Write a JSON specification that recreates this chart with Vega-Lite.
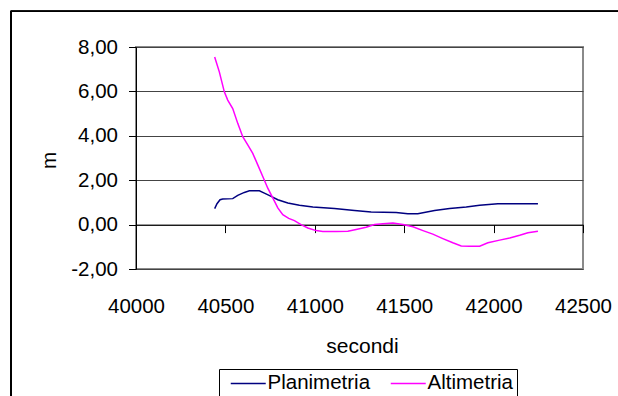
{
  "$schema": "https://vega.github.io/schema/vega-lite/v6.json",
  "autosize": "none",
  "width": 447,
  "height": 222,
  "padding": {"left": 136, "top": 47, "right": 35, "bottom": 127},
  "background": "white",
  "config": {
    "font": "Liberation Sans",
    "locale": {"number": {"decimal": ",", "thousands": ".", "grouping": [3], "currency": ["", ""], "minus": "-"}},
    "view": {"stroke": "#8a8a8a", "strokeWidth": 2}
  },
  "data": {
    "values": [
      {"t": 40440, "serie": "Planimetria", "v": 0.72},
      {"t": 40453, "serie": "Planimetria", "v": 0.94},
      {"t": 40470, "serie": "Planimetria", "v": 1.12},
      {"t": 40485, "serie": "Planimetria", "v": 1.15},
      {"t": 40541, "serie": "Planimetria", "v": 1.17},
      {"t": 40569, "serie": "Planimetria", "v": 1.32},
      {"t": 40606, "serie": "Planimetria", "v": 1.45},
      {"t": 40634, "serie": "Planimetria", "v": 1.52},
      {"t": 40690, "serie": "Planimetria", "v": 1.52},
      {"t": 40718, "serie": "Planimetria", "v": 1.42},
      {"t": 40756, "serie": "Planimetria", "v": 1.27},
      {"t": 40793, "serie": "Planimetria", "v": 1.12},
      {"t": 40849, "serie": "Planimetria", "v": 0.97},
      {"t": 40914, "serie": "Planimetria", "v": 0.87},
      {"t": 40989, "serie": "Planimetria", "v": 0.79},
      {"t": 41110, "serie": "Planimetria", "v": 0.72},
      {"t": 41222, "serie": "Planimetria", "v": 0.64},
      {"t": 41315, "serie": "Planimetria", "v": 0.57},
      {"t": 41455, "serie": "Planimetria", "v": 0.55},
      {"t": 41520, "serie": "Planimetria", "v": 0.49},
      {"t": 41576, "serie": "Planimetria", "v": 0.49},
      {"t": 41670, "serie": "Planimetria", "v": 0.63},
      {"t": 41754, "serie": "Planimetria", "v": 0.72},
      {"t": 41847, "serie": "Planimetria", "v": 0.79},
      {"t": 41922, "serie": "Planimetria", "v": 0.87},
      {"t": 42024, "serie": "Planimetria", "v": 0.94},
      {"t": 42090, "serie": "Planimetria", "v": 0.94},
      {"t": 42248, "serie": "Planimetria", "v": 0.94},
      {"t": 40440, "serie": "Altimetria", "v": 7.55},
      {"t": 40466, "serie": "Altimetria", "v": 6.88},
      {"t": 40494, "serie": "Altimetria", "v": 5.98},
      {"t": 40513, "serie": "Altimetria", "v": 5.61},
      {"t": 40541, "serie": "Altimetria", "v": 5.23},
      {"t": 40569, "serie": "Altimetria", "v": 4.56},
      {"t": 40597, "serie": "Altimetria", "v": 3.96},
      {"t": 40625, "serie": "Altimetria", "v": 3.59},
      {"t": 40653, "serie": "Altimetria", "v": 3.21},
      {"t": 40681, "serie": "Altimetria", "v": 2.69},
      {"t": 40709, "serie": "Altimetria", "v": 2.17},
      {"t": 40737, "serie": "Altimetria", "v": 1.64},
      {"t": 40765, "serie": "Altimetria", "v": 1.2},
      {"t": 40793, "serie": "Altimetria", "v": 0.75},
      {"t": 40821, "serie": "Altimetria", "v": 0.45},
      {"t": 40854, "serie": "Altimetria", "v": 0.28},
      {"t": 40886, "serie": "Altimetria", "v": 0.18},
      {"t": 40923, "serie": "Altimetria", "v": 0.0},
      {"t": 40961, "serie": "Altimetria", "v": -0.15},
      {"t": 41007, "serie": "Altimetria", "v": -0.27},
      {"t": 41045, "serie": "Altimetria", "v": -0.31},
      {"t": 41119, "serie": "Altimetria", "v": -0.31},
      {"t": 41185, "serie": "Altimetria", "v": -0.3},
      {"t": 41231, "serie": "Altimetria", "v": -0.22},
      {"t": 41287, "serie": "Altimetria", "v": -0.12},
      {"t": 41334, "serie": "Altimetria", "v": 0.0},
      {"t": 41381, "serie": "Altimetria", "v": 0.04},
      {"t": 41437, "serie": "Altimetria", "v": 0.07},
      {"t": 41493, "serie": "Altimetria", "v": 0.0},
      {"t": 41549, "serie": "Altimetria", "v": -0.1},
      {"t": 41605, "serie": "Altimetria", "v": -0.27},
      {"t": 41660, "serie": "Altimetria", "v": -0.43},
      {"t": 41716, "serie": "Altimetria", "v": -0.63},
      {"t": 41772, "serie": "Altimetria", "v": -0.82},
      {"t": 41819, "serie": "Altimetria", "v": -0.96},
      {"t": 41866, "serie": "Altimetria", "v": -0.97},
      {"t": 41922, "serie": "Altimetria", "v": -0.97},
      {"t": 41968, "serie": "Altimetria", "v": -0.82},
      {"t": 42034, "serie": "Altimetria", "v": -0.7},
      {"t": 42090, "serie": "Altimetria", "v": -0.6},
      {"t": 42146, "serie": "Altimetria", "v": -0.48},
      {"t": 42192, "serie": "Altimetria", "v": -0.37},
      {"t": 42248, "serie": "Altimetria", "v": -0.3}
    ]
  },
  "layer": [
    {
      "mark": {"type": "line", "strokeWidth": 1.5, "clip": false},
      "encoding": {
        "x": {
          "field": "t",
          "type": "quantitative",
          "scale": {"domain": [40000, 42500], "nice": false, "zero": false},
          "axis": {
            "values": [40000, 40500, 41000, 41500, 42000, 42500],
            "format": "d",
            "offset": -44.4,
            "grid": false,
            "domainColor": "black",
            "domainWidth": 1,
            "tickColor": "black",
            "tickSize": 8,
            "tickWidth": 1,
            "labelPadding": 64,
            "labelFont": "Liberation Sans",
            "labelFontSize": 20.5,
            "labelColor": "black",
            "labelFlush": false,
            "labelOverlap": false,
            "title": "secondi",
            "titleFont": "Liberation Sans",
            "titleFontSize": 21,
            "titleFontWeight": "normal",
            "titleColor": "black",
            "titleBaseline": "alphabetic",
            "titleX": 226,
            "titleY": 128
          }
        },
        "y": {
          "field": "v",
          "type": "quantitative",
          "scale": {"domain": [-2, 8], "nice": false, "zero": false},
          "axis": {
            "values": [-2, 0, 2, 4, 6, 8],
            "format": ".2f",
            "grid": true,
            "gridColor": "#444444",
            "gridWidth": 1,
            "domainColor": "black",
            "domainWidth": 1,
            "tickColor": "black",
            "tickSize": 7.5,
            "tickWidth": 1,
            "labelPadding": 11,
            "labelFont": "Liberation Sans",
            "labelFontSize": 20.5,
            "labelColor": "black",
            "labelFlush": false,
            "labelOverlap": false,
            "title": "m",
            "titleFont": "Liberation Sans",
            "titleFontSize": 20.5,
            "titleFontWeight": "normal",
            "titleColor": "black",
            "titleAngle": -90,
            "titleBaseline": "alphabetic",
            "titleX": -81,
            "titleY": 113
          }
        },
        "color": {
          "field": "serie",
          "type": "nominal",
          "sort": ["Planimetria", "Altimetria"],
          "scale": {"domain": ["Planimetria", "Altimetria"], "range": ["#000080", "#FF00FF"]},
          "legend": {
            "title": null,
            "orient": "none",
            "direction": "horizontal",
            "legendX": 83,
            "legendY": 322,
            "strokeColor": "black",
            "padding": 4,
            "symbolType": "M-2,0H2",
            "symbolSize": 306,
            "symbolStrokeWidth": 1.5,
            "symbolOffset": 15,
            "labelOffset": 9,
            "columnPadding": 12,
            "labelFont": "Liberation Sans",
            "labelFontSize": 20.5,
            "labelColor": "black",
            "labelLimit": 300
          }
        }
      }
    },
    {
      "mark": {"type": "rule", "color": "black", "strokeWidth": 1, "clip": false},
      "encoding": {
        "x": {"datum": 39299},
        "x2": {"datum": 42800},
        "y": {"datum": 9.6}
      }
    },
    {
      "mark": {"type": "rule", "color": "black", "strokeWidth": 1, "clip": false},
      "encoding": {
        "x": {"datum": 39299},
        "y": {"datum": 9.6},
        "y2": {"datum": -8}
      }
    }
  ]
}
